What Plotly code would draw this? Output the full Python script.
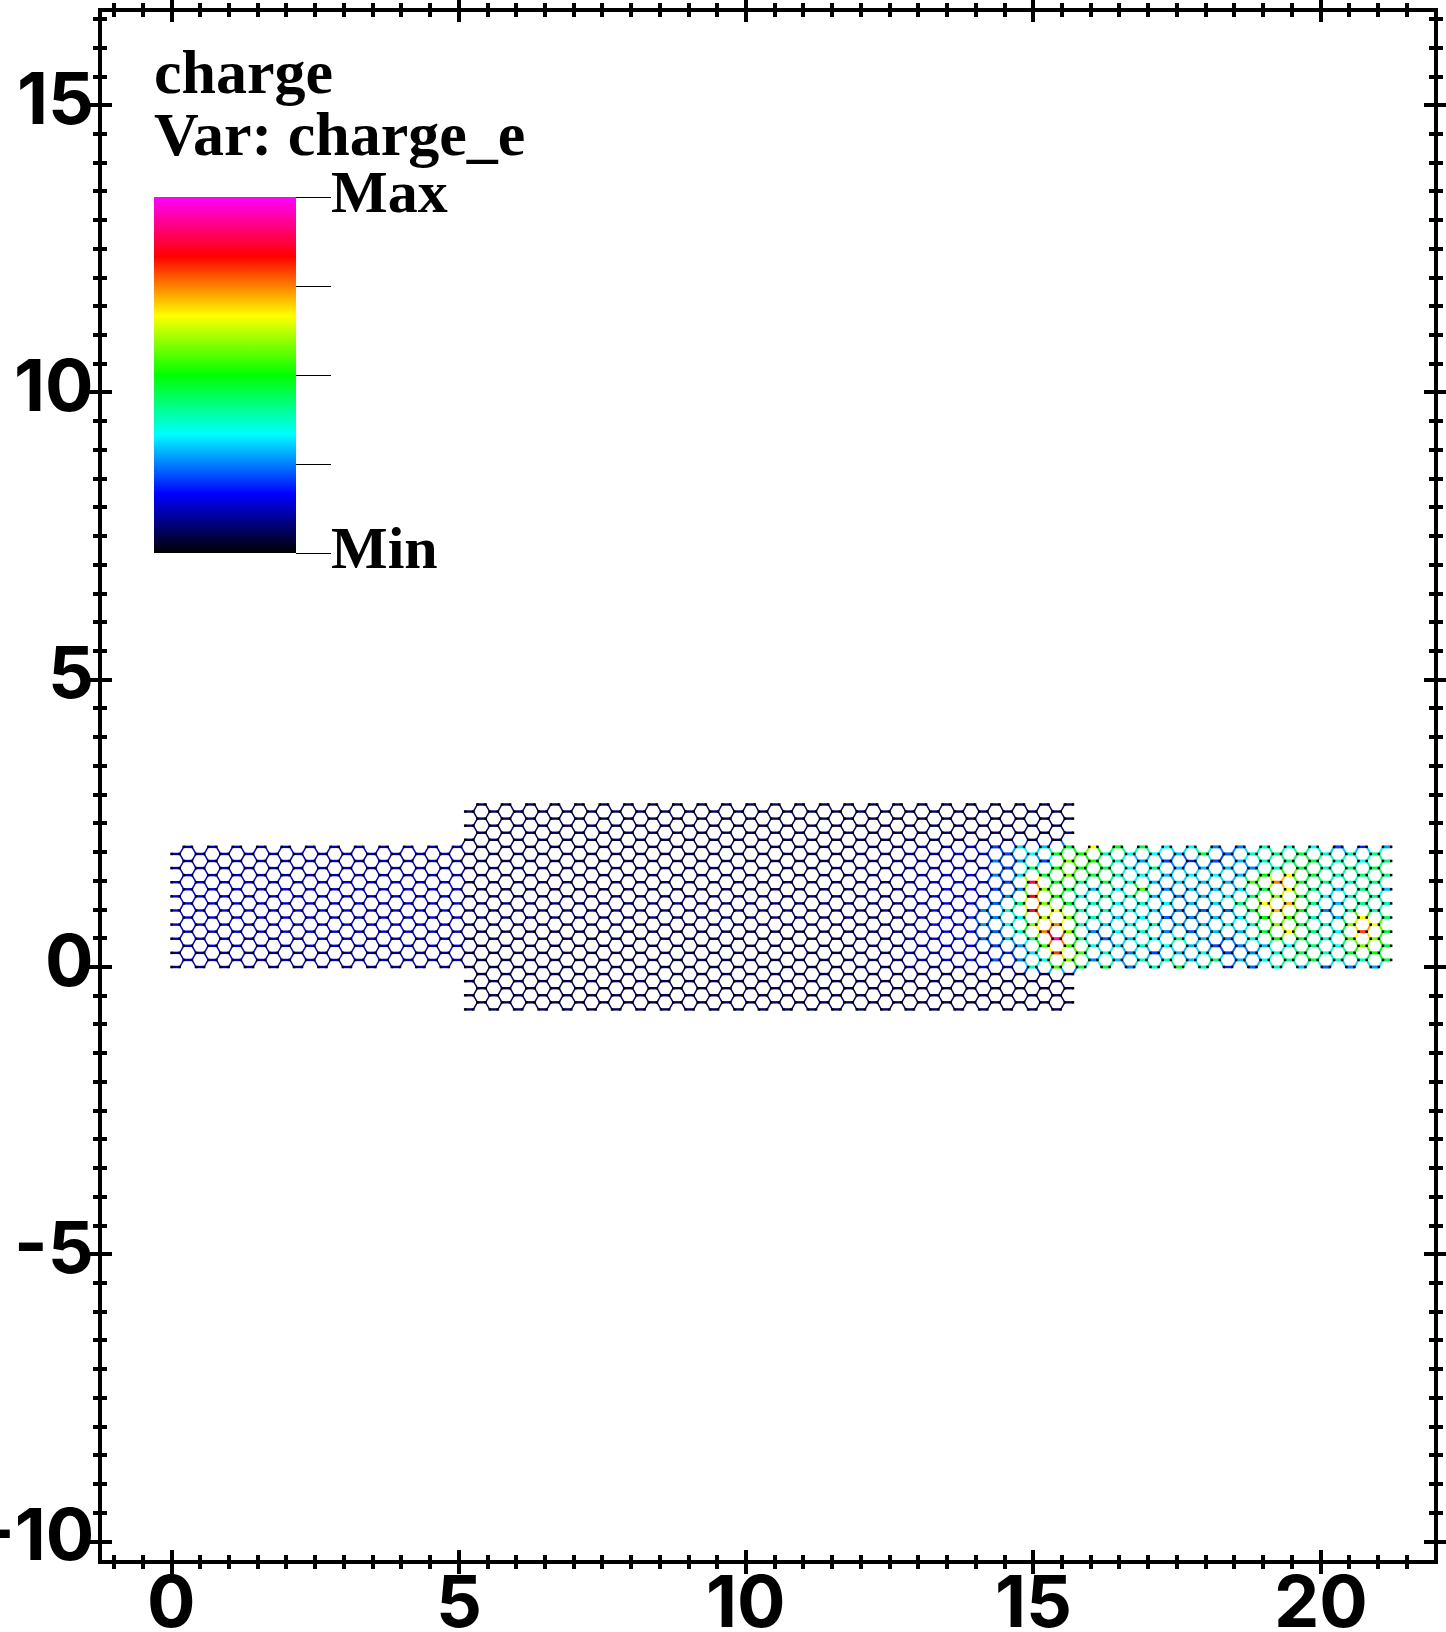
import plotly.graph_objects as go
from plotly.colors import sample_colorscale

# ---------------------------------------------------------------------------
# Lattice description (armchair ribbon, nm)
# ---------------------------------------------------------------------------
BOND = 0.142
ROW_STEP = 0.123
CELL_STEP = 0.426
# (first cell, last cell, lowest row, highest row)
SECTIONS = [(0, 11, 0, 17), (12, 36, -6, 23), (37, 49, 0, 17)]

X_TICKS = [0, 5, 10, 15, 20]
Y_TICKS = [-10, -5, 0, 5, 10, 15]

LEGEND_TITLE = ['charge', 'Var: charge_e']
LEGEND_TICKS = [0, 3, 6, 9, 12]
LEGEND_LABELS = ['Max', 'Min']

# charge level of each bond in twelfths of the legend range
# rows k = 0..17 on the narrow ribbon sections
LEFT_ROW_LEVELS = [1.3, 1.6, 1.3, 1.7, 1.5, 1.8, 1.7, 1.8, 1.8, 1.8, 1.7, 1.8, 1.7, 1.6, 1.6, 1.4, 1.5, 1.6]
# rows k = -6..23 on the wide section
CENTER_ROW_LEVELS = [0.7, 0.7, 0.8, 0.7, 0.8, 0.7, 0.8, 0.8, 0.8, 0.8, 0.8, 0.8, 0.9, 0.9, 0.9,
                     0.9, 0.9, 0.8, 0.9, 0.8, 0.9, 0.8, 0.8, 0.8, 0.7, 0.7, 0.7, 0.7, 0.7, 0.7]
# blue tint near the end of the wide section
TINT_CELLS = [28, 29, 30]
TINT_LEVELS = [1.0, 1.1, 1.4]

# cells 31..49
ROW_K00 = [1.3, 1.4, 2.0, 1.5, 4.5, 6.5, 5.5, 5.5, 3.0, 4.5, 5.5, 4.5, 2.3, 2.8, 4.5, 3.5, 2.8, 3.0, 3.2]
ROW_K01 = [1.8, 2.2, 2.7, 3.0, 4.0, 7.0, 3.0, 3.5, 4.5, 4.5, 3.5, 5.0, 3.5, 4.0, 5.0, 5.5, 4.5, 4.5, 5.5]
ROW_K02 = [1.4, 1.5, 1.5, 2.2, 3.8, 9.5, 6.5, 4.5, 3.0, 2.6, 3.5, 4.0, 2.6, 3.0, 4.5, 5.5, 4.5, 5.5, 6.0]
ROW_K03 = [2.0, 2.0, 2.5, 3.2, 6.5, 6.5, 4.0, 3.8, 4.5, 4.0, 3.5, 2.6, 3.0, 3.5, 4.0, 5.0, 4.0, 7.0, 5.5]
ROW_K04 = [2.0, 2.2, 2.8, 3.5, 5.0, 11.5, 5.0, 2.8, 3.5, 4.0, 5.0, 3.5, 3.0, 4.5, 6.0, 5.5, 4.5, 6.5, 7.0]
ROW_K05 = [2.0, 2.0, 2.7, 4.5, 9.0, 7.0, 3.0, 4.0, 4.5, 3.0, 2.8, 3.5, 3.5, 5.5, 8.0, 5.0, 4.0, 9.5, 5.5]
ROW_K06 = [2.0, 2.0, 3.2, 4.0, 7.0, 9.0, 4.5, 3.8, 4.0, 4.4, 3.5, 3.5, 4.0, 4.5, 7.0, 5.5, 4.5, 7.0, 8.0]
ROW_K07 = [2.0, 2.2, 3.0, 4.0, 7.5, 7.0, 4.5, 3.7, 4.0, 2.8, 3.0, 3.5, 4.0, 6.0, 6.5, 4.5, 3.5, 8.0, 5.0]
ROW_K08 = [1.7, 1.8, 3.0, 4.5, 10.5, 8.0, 4.5, 4.5, 4.0, 3.7, 3.0, 2.8, 2.8, 5.5, 8.5, 6.0, 3.0, 5.0, 4.5]
ROW_K09 = [2.0, 2.0, 2.8, 5.0, 7.0, 5.5, 4.5, 4.0, 4.5, 4.0, 3.5, 3.8, 5.0, 8.0, 8.5, 5.0, 3.5, 5.0, 4.5]
ROW_K10 = [1.7, 1.8, 2.0, 3.0, 10.0, 6.0, 4.0, 5.0, 4.5, 3.5, 3.0, 3.5, 4.0, 5.0, 7.0, 5.5, 4.0, 4.5, 5.0]
ROW_K11 = [2.0, 2.0, 2.5, 3.0, 7.0, 5.5, 3.5, 4.0, 6.5, 3.0, 3.5, 3.5, 3.7, 5.5, 8.0, 5.0, 3.5, 5.0, 3.5]
ROW_K12 = [1.7, 1.8, 2.0, 2.5, 10.5, 5.7, 5.0, 5.5, 4.5, 3.5, 3.7, 3.5, 3.5, 6.5, 9.0, 5.5, 5.0, 4.5, 5.0]
ROW_K13 = [2.0, 2.0, 3.0, 3.8, 5.5, 7.0, 5.5, 4.5, 4.0, 3.5, 4.0, 4.0, 3.5, 6.0, 8.0, 5.5, 4.5, 5.0, 5.0]
ROW_K14 = [1.6, 1.7, 1.5, 2.4, 5.0, 6.0, 6.0, 5.5, 4.0, 5.0, 3.5, 3.5, 3.5, 3.0, 4.5, 5.5, 4.5, 5.0, 5.5]
ROW_K15 = [1.3, 1.2, 3.0, 3.2, 2.5, 7.0, 6.0, 4.5, 3.2, 2.6, 2.2, 2.4, 3.5, 4.5, 5.0, 5.5, 4.5, 4.0, 5.0]
ROW_K16 = [1.2, 2.0, 2.0, 2.5, 4.0, 5.5, 6.0, 4.5, 4.0, 4.0, 3.5, 5.5, 2.8, 4.5, 5.0, 5.5, 4.5, 4.5, 5.0]
ROW_K17 = [1.5, 2.0, 2.5, 3.8, 3.5, 5.5, 8.0, 6.0, 5.5, 4.0, 4.0, 3.0, 3.0, 4.5, 4.0, 4.0, 2.6, 2.3, 3.3]
RIGHT_ROWS = [ROW_K00, ROW_K01, ROW_K02, ROW_K03, ROW_K04, ROW_K05, ROW_K06, ROW_K07, ROW_K08,
              ROW_K09, ROW_K10, ROW_K11, ROW_K12, ROW_K13, ROW_K14, ROW_K15, ROW_K16, ROW_K17]

COLORSCALE = [[0, '#000000'], [1 / 6, '#0000ff'], [2 / 6, '#00ffff'], [3 / 6, '#00ff00'],
              [4 / 6, '#ffff00'], [5 / 6, '#ff0000'], [1, '#ff00ff']]


def _in_lattice(n, k):
    return any(a <= n <= b and lo <= k <= hi for a, b, lo, hi in SECTIONS)


def _cell_level(n, k):
    if 0 <= k <= 17 and n >= 31:
        return RIGHT_ROWS[k][n - 31]
    if n <= 11:
        return LEFT_ROW_LEVELS[k]
    level = CENTER_ROW_LEVELS[k + 6]
    if 0 <= k <= 17 and n in TINT_CELLS:
        level = max(level, TINT_LEVELS[TINT_CELLS.index(n)])
    return level


def _pos(n, k, a):
    x = CELL_STEP * n + BOND * a + (1.5 * BOND if k % 2 else 0)
    return x, ROW_STEP * k


def _upper_neighbours(n, k):
    # atom a of cell (n, k) -> the atom of row k + 1 it bonds to
    if k % 2 == 0:
        return [(0, n - 1, 1), (1, n, 0)]
    return [(0, n, 1), (1, n + 1, 0)]


horizontal, diagonal = {}, {}
atom_x, atom_y = [], []
for first, last, low, high in SECTIONS:
    for n in range(first, last + 1):
        for k in range(low, high + 1):
            level = _cell_level(n, k)
            p0, p1 = _pos(n, k, 0), _pos(n, k, 1)
            horizontal.setdefault(round(level * 4) / 4, []).append((p0, p1))
            atom_x += [p0[0], p1[0]]
            atom_y += [p0[1], p1[1]]
            for a, up_n, up_a in _upper_neighbours(n, k):
                if _in_lattice(up_n, k + 1):
                    mean = (level + _cell_level(up_n, k + 1)) / 2
                    seg = (_pos(n, k, a), _pos(up_n, k + 1, up_a))
                    diagonal.setdefault(round(mean * 4) / 4, []).append(seg)


def _bond_trace(level, segments, width):
    xs, ys = [], []
    for (x0, y0), (x1, y1) in segments:
        xs += [x0, x1, None]
        ys += [y0, y1, None]
    color = sample_colorscale(COLORSCALE, [level / 12])[0]
    return go.Scatter(x=xs, y=ys, mode='lines', line=dict(color=color, width=width),
                      hoverinfo='skip', showlegend=False)


fig = go.Figure()
# bright bonds need more weight than the navy ones to read the same on white
for level in sorted(diagonal):
    fig.add_trace(_bond_trace(level, diagonal[level], 2.0 if level >= 2.5 else 1.5))
for level in sorted(horizontal):
    fig.add_trace(_bond_trace(level, horizontal[level], 3.0 if level >= 2.5 else 2.4))

# plot area in page pixels, the colour bar and legend text are placed against it
LEFT, RIGHT, TOP, BOTTOM = 102, 1434, 12, 1560
WIDTH, HEIGHT = RIGHT - LEFT, BOTTOM - TOP


def _paper_x(px):
    return (px - LEFT) / WIDTH


def _paper_y(px):
    return 1 - (px - TOP) / HEIGHT


# atoms carry the colour bar, they are all at the bottom of the scale
fig.add_trace(go.Scatter(
    x=atom_x, y=atom_y, mode='markers', hoverinfo='skip', showlegend=False,
    marker=dict(
        symbol='square', size=2.5, color=[0] * len(atom_x), cmin=0, cmax=12, colorscale=COLORSCALE,
        colorbar=dict(
            lenmode='pixels', len=356, thicknessmode='pixels', thickness=142,
            x=_paper_x(154), xanchor='left', y=_paper_y(197), yanchor='top',
            xpad=0, ypad=0, outlinewidth=0, ticks='outside', ticklen=35, tickwidth=1,
            tickcolor='#000000', tickmode='array', tickvals=LEGEND_TICKS, showticklabels=False,
        ),
    ),
))
# empty trace so the second axis pair, used for the outer half of the ticks, gets drawn
fig.add_trace(go.Scatter(x=[None], y=[None], xaxis='x2', yaxis='y2', showlegend=False, hoverinfo='skip'))

AXIS = dict(showgrid=False, zeroline=False, showline=True, linecolor='#000000', linewidth=4, automargin=False,
            mirror='ticks', tickcolor='#000000', tickwidth=4, ticklen=10, tickmode='array', showticklabels=False)
MINOR = dict(ticklen=5, tickwidth=4, tickcolor='#000000', dtick=0.5, showgrid=False)
TICK_FONT = dict(family='Inter', size=72, color='#000000', weight=700)
TITLE_FONT = dict(family='Liberation Serif', size=62, color='#000000', weight=700)
LABEL_FONT = dict(family='Liberation Serif', size=60, color='#000000', weight=700)
X_RANGE = [-1.21, 21.975]
Y_RANGE = [-10.322, 16.623]

fig.update_layout(
    width=1446, height=1632, plot_bgcolor='#ffffff', paper_bgcolor='#ffffff',
    margin=dict(l=LEFT, r=1446 - RIGHT, t=TOP, b=1632 - BOTTOM),
    xaxis=dict(AXIS, range=X_RANGE, tickvals=X_TICKS, ticks='outside', minor=dict(MINOR, ticks='outside')),
    yaxis=dict(AXIS, range=Y_RANGE, tickvals=Y_TICKS, ticks='outside', minor=dict(MINOR, ticks='outside')),
    xaxis2=dict(AXIS, range=X_RANGE, tickvals=X_TICKS, ticks='inside', overlaying='x', anchor='y2',
                minor=dict(MINOR, ticks='inside')),
    yaxis2=dict(AXIS, range=Y_RANGE, tickvals=Y_TICKS, ticks='inside', overlaying='y', anchor='x2',
                minor=dict(MINOR, ticks='inside')),
)
# tick labels hug the frame and sit off-centre in the original, so they are annotations
for tick in Y_TICKS:
    fig.add_annotation(text=str(tick), xref='paper', yref='y', x=0, y=tick, xanchor='right', yanchor='middle',
                       xshift=-6, yshift=8, showarrow=False, font=TICK_FONT)
for tick in X_TICKS:
    fig.add_annotation(text=str(tick), xref='x', yref='paper', x=tick, y=0, xanchor='center', yanchor='middle',
                       yshift=-40, showarrow=False, font=TICK_FONT)
for line, middle in zip(LEGEND_TITLE, [72, 134]):
    fig.add_annotation(text=line, xref='paper', yref='paper', x=_paper_x(152), y=_paper_y(middle),
                       xanchor='left', yanchor='middle', showarrow=False, font=TITLE_FONT)
for label, middle in zip(LEGEND_LABELS, [192, 548]):
    fig.add_annotation(text=label, xref='paper', yref='paper', x=_paper_x(329), y=_paper_y(middle),
                       xanchor='left', yanchor='middle', showarrow=False, font=LABEL_FONT)

fig.write_html("out.html", post_script="document.body.style.margin = 0;", config={'displayModeBar': False})
